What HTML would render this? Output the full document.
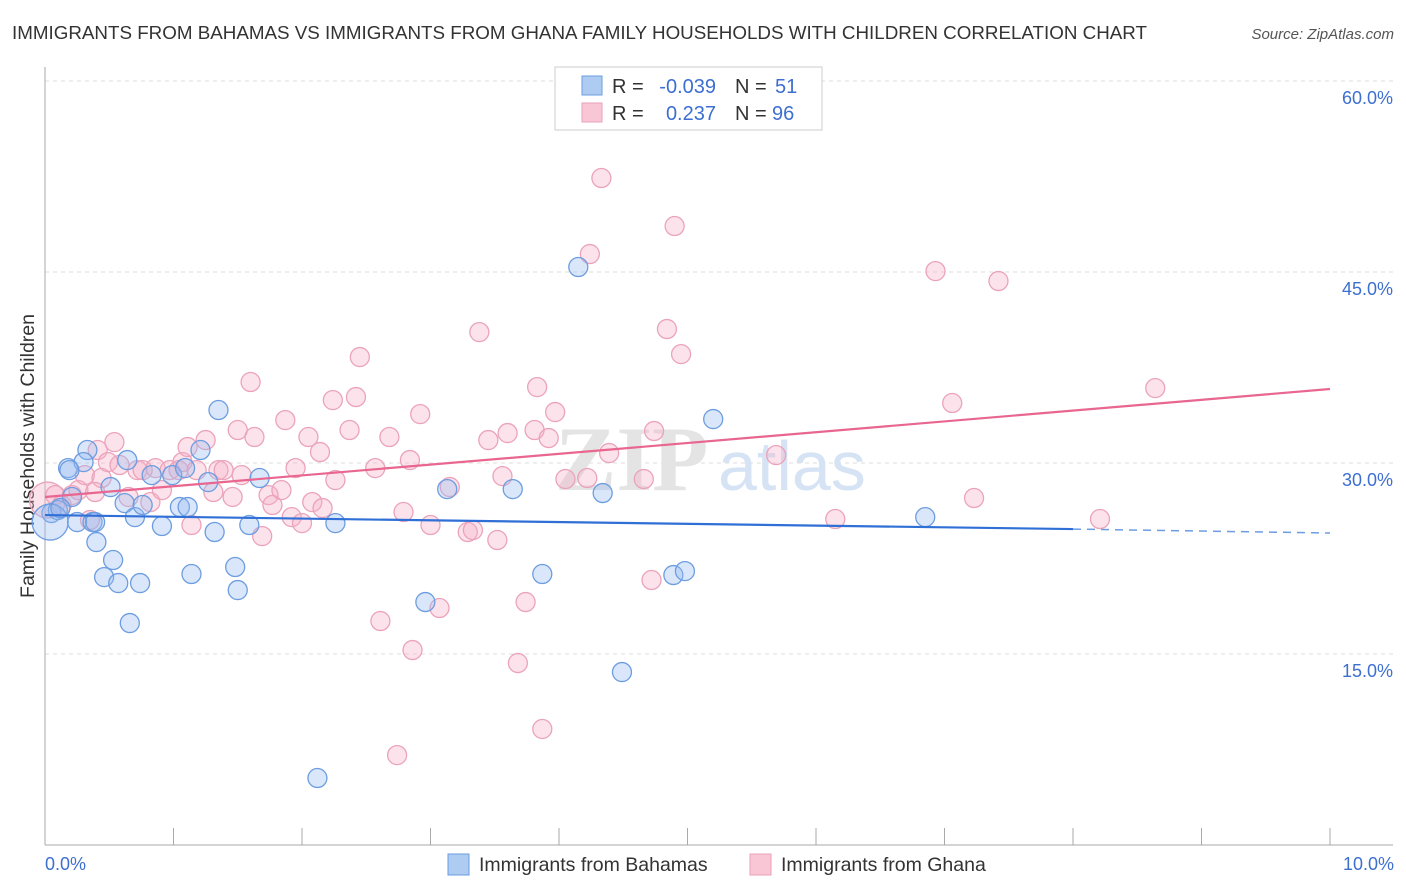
<!DOCTYPE html>
<html><head><meta charset="utf-8"><style>
body{margin:0;background:#fff;font-family:"Liberation Sans",sans-serif;}
svg{display:block}
</style></head><body>
<svg id="chart" width="1406" height="892">
<text x="12" y="39" font-size="18.8" fill="#333">IMMIGRANTS FROM BAHAMAS VS IMMIGRANTS FROM GHANA FAMILY HOUSEHOLDS WITH CHILDREN CORRELATION CHART</text>
<text x="1394" y="39" font-size="15" fill="#555" font-style="italic" text-anchor="end">Source: ZipAtlas.com</text>
<text x="0" y="0" transform="translate(34,456) rotate(-90)" font-size="19.5" fill="#333" text-anchor="middle">Family Households with Children</text>
<g id="grid"></g>
<text x="555" y="490" font-size="92" font-family="Liberation Serif,serif" font-weight="bold" fill="#e4e4e4">ZIP</text>
<text x="718" y="490" font-size="70" fill="#d5e3f4">atlas</text>
<g id="axes"></g>
<g id="pink"></g>
<g id="blue"></g>
<g id="lines"></g>
<g>
<rect x="555" y="67" width="267" height="63" fill="#fff" stroke="#ccc"/>
<rect x="582" y="76" width="20" height="19" fill="#aecbf2" stroke="#6a9de0"/>
<rect x="582" y="103" width="20" height="19" fill="#f8c6d5" stroke="#eaa0b8"/>
<text x="612" y="93" font-size="20" fill="#333">R =</text>
<text x="716" y="93" font-size="20" fill="#3d6fd1" text-anchor="end">-0.039</text>
<text x="735" y="93" font-size="20" fill="#333">N =</text>
<text x="775" y="93" font-size="20" fill="#3d6fd1">51</text>
<text x="612" y="120" font-size="20" fill="#333">R =</text>
<text x="716" y="120" font-size="20" fill="#3d6fd1" text-anchor="end">0.237</text>
<text x="735" y="120" font-size="20" fill="#333">N =</text>
<text x="772" y="120" font-size="20" fill="#3d6fd1">96</text>
</g>
<g>
<rect x="448" y="854" width="21" height="21" fill="#aecbf2" stroke="#6a9de0"/>
<text x="479" y="871" font-size="19.5" fill="#333">Immigrants from Bahamas</text>
<rect x="750" y="854" width="21" height="21" fill="#f8c6d5" stroke="#eaa0b8"/>
<text x="781" y="871" font-size="19.5" fill="#333">Immigrants from Ghana</text>
</g>
<text x="45" y="870" font-size="18" fill="#3d6fd1">0.0%</text>
<text x="1394" y="870" font-size="18" fill="#3d6fd1" text-anchor="end">10.0%</text>
</svg>
<script>
const blueX=[.05,.10,.04,.18,.21,.33,.30,.25,.37,.40,.51,.53,.46,.57,.66,.64,.62,.70,.76,.74,.83,.91,.99,1.05,1.09,1.11,1.21,1.27,1.14,1.32,1.35,1.48,1.50,1.59,1.67,2.12,2.26,2.96,3.13,3.64,3.87,4.15,4.34,4.49,4.89,4.98,5.20,6.85,.12,.19,.39];
const blueY=[26.07,26.30,25.36,29.60,27.33,31.02,30.07,25.36,25.36,23.79,28.11,22.38,21.04,20.57,17.43,30.23,26.85,25.75,26.70,20.57,29.05,25.05,29.05,26.54,29.60,26.54,31.02,28.50,21.28,24.58,34.16,21.83,20.02,25.13,28.82,5.26,25.28,19.08,27.95,27.95,21.28,45.39,27.64,13.58,21.20,21.51,33.45,25.75,26.46,29.44,25.36];
const blueBig=[2];
const pinkX=[.02,.08,.13,.21,.26,.31,.35,.41,.44,.49,.54,.58,.65,.72,.76,.82,.86,.91,.97,1.04,1.07,1.11,1.14,1.18,1.25,1.31,1.35,1.39,1.46,1.50,1.53,1.60,1.63,1.69,1.74,1.77,1.84,1.87,1.92,1.95,2.00,2.05,2.08,2.14,2.16,2.24,2.26,2.37,2.42,2.45,2.57,2.61,2.68,2.79,2.84,2.86,2.92,3.00,3.07,3.15,3.29,3.33,3.38,3.45,3.52,3.56,3.60,3.68,3.74,3.81,3.83,3.87,3.92,3.97,4.05,4.22,4.24,4.33,4.39,4.66,4.72,4.74,4.84,4.90,4.95,5.69,6.15,6.93,7.06,7.23,7.42,8.21,8.64,2.74,.39];
const pinkY=[27.09,27.48,26.70,27.48,27.87,29.05,25.52,31.02,28.82,30.07,31.64,29.84,27.33,29.44,29.44,26.93,29.60,27.87,29.44,29.44,30.07,31.25,25.13,29.44,31.80,27.72,29.44,29.44,27.33,32.59,29.05,36.36,32.04,24.26,27.48,26.70,27.87,33.37,25.75,29.60,25.28,32.04,26.93,30.86,26.46,34.94,28.66,32.59,35.18,38.32,29.60,17.59,32.04,26.15,30.23,15.31,33.84,25.13,18.61,28.11,24.58,24.73,40.28,31.80,23.95,28.97,32.35,14.29,19.08,32.59,35.96,9.11,31.96,34.00,28.74,28.82,46.41,52.38,30.78,28.74,20.81,32.51,40.52,48.61,38.55,30.62,25.60,45.07,34.71,27.25,44.29,25.60,35.88,7.06,27.72];
const pinkBig=[0];
const yTicks=[15,30,45,60];
const yTickLabels=["15.0%","30.0%","45.0%","60.0%"];
const blueTrend=[[0,25.91],[8.0,24.81],[10,24.50]];
const pinkTrend=[[0,27.33],[10,35.81]];
const NS="http://www.w3.org/2000/svg";
const xs=v=>45+v*128.5;
const ys=v=>845-v*191/15;
function mk(tag,attrs,parent){const e=document.createElementNS(NS,tag);for(const k in attrs)e.setAttribute(k,attrs[k]);parent.appendChild(e);return e;}
const grid=document.getElementById('grid'),axes=document.getElementById('axes');
yTicks.forEach((t,i)=>{
 const l=mk('line',{x1:45,x2:1393,y1:ys(t),y2:ys(t),stroke:'#ddd','stroke-dasharray':'4,4'},grid);
 
 
 const tx=mk('text',{x:1393,y:ys(t)+23,'font-size':18,fill:'#3d6fd1','text-anchor':'end'},grid);
 tx.textContent=yTickLabels[i];
 
 
});
mk('line',{x1:45,x2:45,y1:67,y2:845,stroke:'#aaa'},axes);
mk('line',{x1:45,x2:1393,y1:845,y2:845,stroke:'#aaa'},axes);
for(let i=0;i<=10;i++){const t=mk('line',{x1:xs(i),x2:xs(i),y1:828,y2:845,stroke:'#aaa'},axes);
 
 }
function dots(g,X,Y,big,fill,stroke,name){
 X.forEach((x,i)=>{const c=mk('circle',{cx:xs(x),cy:ys(Y[i]),r:big.includes(i)?18:9.5,fill:fill,stroke:stroke,'stroke-width':1.3},g);
 
 });
}
dots(document.getElementById('pink'),pinkX,pinkY,pinkBig,'rgba(245,175,198,0.35)','#eba3bb','ghana-point');
dots(document.getElementById('blue'),blueX,blueY,blueBig,'rgba(150,185,240,0.35)','#6d9de0','bahamas-point');
const lines=document.getElementById('lines');
const pl=mk('line',{x1:xs(pinkTrend[0][0]),y1:ys(pinkTrend[0][1]),x2:xs(pinkTrend[1][0]),y2:ys(pinkTrend[1][1]),stroke:'#e8668f','stroke-width':2.2},lines);


const bl=mk('line',{x1:xs(blueTrend[0][0]),y1:ys(blueTrend[0][1]),x2:xs(blueTrend[1][0]),y2:ys(blueTrend[1][1]),stroke:'#2f6fd6','stroke-width':2.2},lines);


const bd=mk('line',{x1:xs(blueTrend[1][0]),y1:ys(blueTrend[1][1]),x2:xs(blueTrend[2][0]),y2:ys(blueTrend[2][1]),stroke:'#6d9de0','stroke-width':1.5,'stroke-dasharray':'8,6'},lines);


</script>
</body></html>
